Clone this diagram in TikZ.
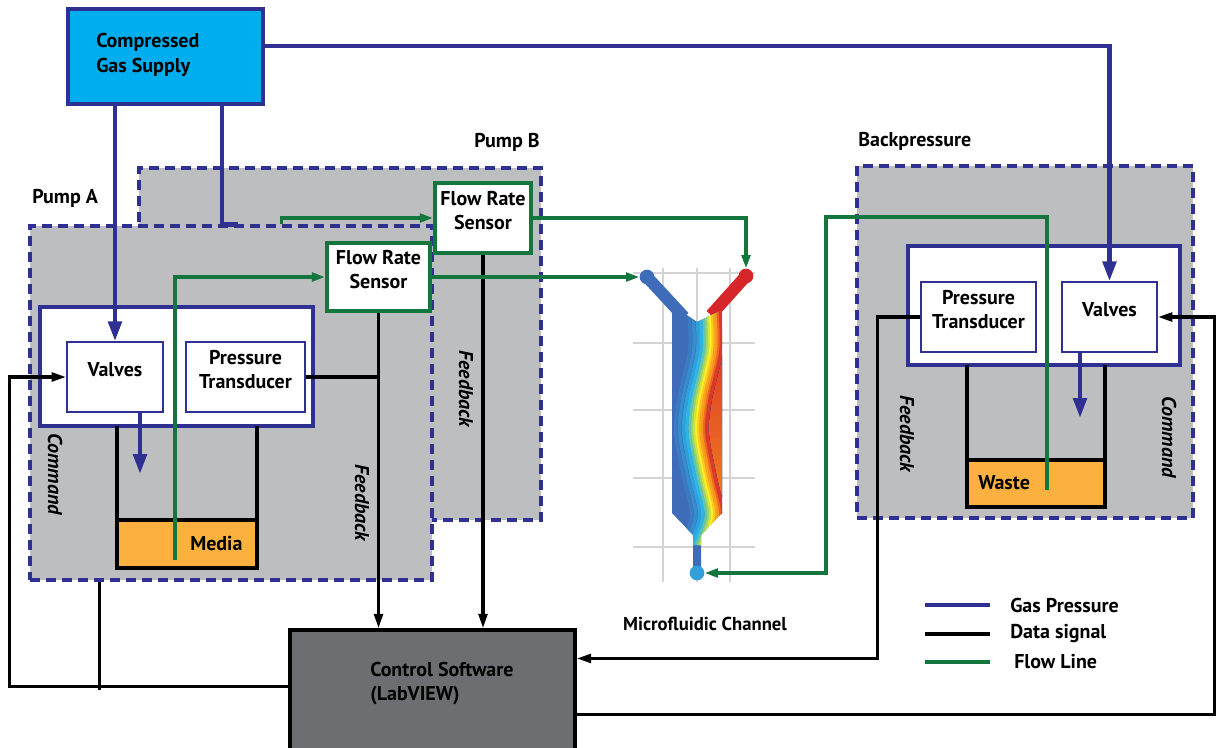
\documentclass[tikz,border=0pt]{standalone}
\usepackage{fontspec}
\setmainfont{PT Sans}
\usetikzlibrary{arrows.meta,fit,calc}
\definecolor{gasblue}{HTML}{2E3192}
\definecolor{supplycyan}{HTML}{00AEEF}
\definecolor{pumpgray}{HTML}{BCBEC0}
\definecolor{flowgreen}{HTML}{13773D}
\definecolor{mediaorange}{HTML}{FBB040}
\definecolor{ctrlgray}{HTML}{6D6E71}
\definecolor{chblue}{HTML}{3F6CB8}
\definecolor{chcyan}{HTML}{2BB5E8}
\definecolor{chgreen}{HTML}{9BD36A}
\definecolor{chyellow}{HTML}{FFEE22}
\definecolor{chorange}{HTML}{F7941D}
\definecolor{chred}{HTML}{D7262A}
\definecolor{gridgray}{HTML}{D4D4D4}
\begin{document}
\begin{tikzpicture}[x=0.75pt,y=-0.75pt,
  lbl/.style={font=\bfseries\fontsize{15}{18}\selectfont, text=black, inner sep=0pt},
  rotlbl/.style={font=\bfseries\itshape\fontsize{15}{18}\selectfont, text=black, inner sep=0pt, rotate=-90},
  region/.style={fill=pumpgray, draw=gasblue, line width=2.3pt, dash pattern=on 7.5pt off 4.5pt, inner sep=0pt},
  unitbox/.style={fill=white, draw=gasblue, line width=3.6pt, inner sep=0pt},
  partbox/.style={fill=white, draw=gasblue, line width=1.1pt, inner sep=0pt, lbl, align=left},
  sensorbox/.style={fill=white, draw=flowgreen, line width=2.8pt, inner sep=0pt, lbl, align=left},
  liquid/.style={fill=mediaorange, draw=black, line width=2.3pt, inner sep=0pt},
  wall/.style={draw=black, line width=2.3pt},
  gasline/.style={draw=gasblue, line width=3.4pt},
  gastip/.style={-{Triangle[length=15pt,width=10pt]}},
  dataline/.style={draw=black, line width=2.5pt},
  datatip/.style={-{Triangle[length=11pt,width=6.5pt]}},
  flowline/.style={draw=flowgreen, line width=2.4pt},
  flowtip/.style={-{Triangle[length=10pt,width=6.5pt]}},
  port/.style={circle, inner sep=0pt, minimum size=11pt},
]
\useasboundingbox (0,0) rectangle (1218,747);

% ---- pump enclosures (Pump A overlaps Pump B) ----
\node[region, fit={(139,168)(541,520)}] (pumpB) {};
\node[region, fit={(30,226)(432,580)}] (pumpA) {};
\node[region, fit={(857,166)(1193,518)}] (bp) {};

\node[lbl, anchor=base west] (pumpBlbl) at (474,147) {Pump B};
\node[lbl, anchor=base west] (pumpAlbl) at (32,203) {Pump A};
\node[lbl, anchor=base west] (bplbl) at (858,146) {Backpressure};

% ---- gas supply ----
\node[fill=supplycyan, draw=gasblue, line width=2.8pt, inner sep=0pt, fit={(68,9)(263,104)}] (supply) {};
\node[lbl, align=left, anchor=north west, font=\bfseries\fontsize{15}{19}\selectfont] (supplytxt) at (96,33) {Compressed\\Gas Supply};

% ---- Pump A ----
\node[unitbox, fit={(40,307)(313,426)}] (unitA) {};
\node[partbox, fit={(67,342)(163,412)}] (valvesA) {Valves};
\node[partbox, fit={(186,342)(305,412)}] (ptA) {Pressure\\Transducer};
\draw[wall] (117,426) -- (117,568) -- (257,568) -- (257,426);
\node[liquid, fit={(117,520)(257,568)}] (mediaA) {};
\node[lbl, anchor=base west] (mediatxt) at (190,550) {Media};
\node[sensorbox, fit={(327,243)(430,311)}] (sensorA) {Flow Rate\\Sensor};

% ---- Pump B sensor ----
\node[sensorbox, fit={(435,183)(531,253)}] (sensorB) {Flow Rate\\Sensor};

% ---- Backpressure ----
\node[unitbox, fit={(908,246)(1180,365)}] (unitBP) {};
\node[partbox, fit={(921,282)(1036,352)}] (ptBP) {Pressure\\Transducer};
\node[partbox, fit={(1062,282)(1157,352)}] (valvesBP) {Valves};
\draw[wall] (967,365) -- (967,507) -- (1105,507) -- (1105,365);
\node[liquid, fit={(967,460)(1105,507)}] (wasteBP) {};
\node[lbl, anchor=base west] (wastetxt) at (978,489) {Waste};

% ---- control software ----
\node[fill=ctrlgray, draw=black, line width=2.3pt, inner sep=0pt, fit={(290,630)(575,770)}] (ctrl) {};
\node[lbl, align=left, anchor=north west] (ctrltxt) at (370,662) {Control Software\\(LabVIEW)};

% ---- microfluidic channel ----
\foreach \gx in {663,697,730} \draw[gridgray, line width=0.8pt] (\gx,268) -- (\gx,582);
\foreach \gy in {273,343,410,478,547} \draw[gridgray, line width=0.8pt] (633,\gy) -- (755,\gy);
\draw[chblue, line width=9pt] (647,277) -- (684,317);
\draw[chred, line width=9pt] (746,276) -- (711,315);
\def\scurve{(710,306) (711,350) (700,400) (697,433) (705,477) (713,515) (703,545)}
\begin{scope}
  \clip (672,305) -- (697,322) -- (722,310) -- (722,513) -- (701,535) -- (701,570)
        -- (693,570) -- (693,535) -- (672,513) -- cycle;
  \fill[chblue] (660,290) rectangle (740,580);
  \fill[top color=chred, middle color=chred, bottom color=chorange, xshift=9pt]
       plot[smooth] coordinates {\scurve} -- (760,560) -- (760,290) -- cycle;
  \foreach \dx/\cc in {-16/chblue!80!chcyan, -13/chblue!55!chcyan, -10/chblue!30!chcyan,
      -7.5/chcyan, -5/chcyan!50!chgreen, -3/chgreen, -1.5/chgreen!50!chyellow,
      0/chyellow, 1.5/chyellow!60!chorange, 3/chorange!80!chyellow, 4.5/chorange,
      6/chorange!60!chred, 7.5/chred!85!chorange}
    \draw[\cc, line width=2.6pt, xshift=\dx pt] plot[smooth] coordinates {\scurve};
\end{scope}
\node[port, fill=chblue] (inletB) at (647,277) {};
\node[port, fill=chred] (inletR) at (746,276) {};
\node[port, fill=chcyan!70!chblue] (outlet) at (697,573) {};
\node[lbl, font=\bfseries\fontsize{14}{16}\selectfont] (chlbl) at (705,624) {Microfluidic Channel};

% ---- gas pressure lines ----
\draw[gasline, gastip] ($(supply.north east)+(0,39)$) -| (valvesBP.north);
\draw[gasline, gastip] (supply.south -| valvesA.north) -- (valvesA.north);
\draw[gasline] ($(supply.south west)+(156,0)$) |- ($(pumpA.north west)+(210,0)$);
\coordinate (dropA) at (140,474);
\draw[gasline, gastip] (valvesA.south -| dropA) -- (dropA);
\coordinate (dropBP) at (1080,418);
\draw[gasline, gastip] (valvesBP.south -| dropBP) -- (dropBP);

% ---- data lines ----
\draw[dataline] (ptA.east) -- (ptA.east -| sensorA.south);
\draw[dataline, datatip] (sensorA.south) -- (sensorA.south |- ctrl.north);
\draw[dataline, datatip] (sensorB.south) -- (sensorB.south |- ctrl.north);
\draw[dataline] ($(pumpA.north east)+(0,94)$) -- ($(pumpA.north east)+(0,94)$ -| sensorB.south);
\draw[dataline, datatip] ($(ctrl.north west)+(0,58)$) -| ($(valvesA.west)+(-57,0)$) -- (valvesA.west);
\draw[dataline] ($(pumpA.south west)+(71,0)$) -- ($(pumpA.south west)+(71,108)$);
\draw[dataline, datatip] (ptBP.west) -- ++(-43,0) |- ($(ctrl.north east)+(0,30)$);
\draw[dataline, datatip] ($(ctrl.north east)+(0,86)$) -- ++(638,0) |- (valvesBP.east);

% ---- flow lines ----
\coordinate (mediaIn) at (175,560);
\draw[flowline, flowtip] (mediaIn) |- (sensorA.west);
\draw[flowline, flowtip] ($(pumpA.north west)+(253,0)$) |- (sensorB.west);
\draw[flowline, flowtip] (sensorB.east) -| (inletR.north);
\draw[flowline, flowtip] (sensorA.east) -- (inletB.west);
\coordinate (wasteIn) at (1047,490);
\coordinate (bend) at (826,217);
\draw[flowline, flowtip] (wasteIn) |- (bend) |- (outlet.east);

% ---- side labels ----
\node[rotlbl] (cmdA) at (55,474) {Command};
\node[rotlbl] (fbA) at (362,503) {Feedback};
\node[rotlbl] (fbB) at (466,389) {Feedback};
\node[rotlbl] (fbBP) at (907,434) {Feedback};
\node[rotlbl] (cmdBP) at (1169,437) {Command};

% ---- legend ----
\node[lbl, anchor=west] (lgGas) at (1010,605) {Gas Pressure};
\node[lbl, anchor=west] (lgData) at (1010,634) {Data signal};
\node[lbl, anchor=west] (lgFlow) at (1014,662) {Flow Line};
\draw[gasline] ($(lgGas.west)+(-85,0)$) -- ++(65,0);
\draw[dataline, line width=2.8pt] ($(lgData.west)+(-85,0)$) -- ++(65,0);
\draw[flowline, line width=3pt] ($(lgFlow.west)+(-89,0)$) -- ++(65,0);
\end{tikzpicture}
\end{document}
